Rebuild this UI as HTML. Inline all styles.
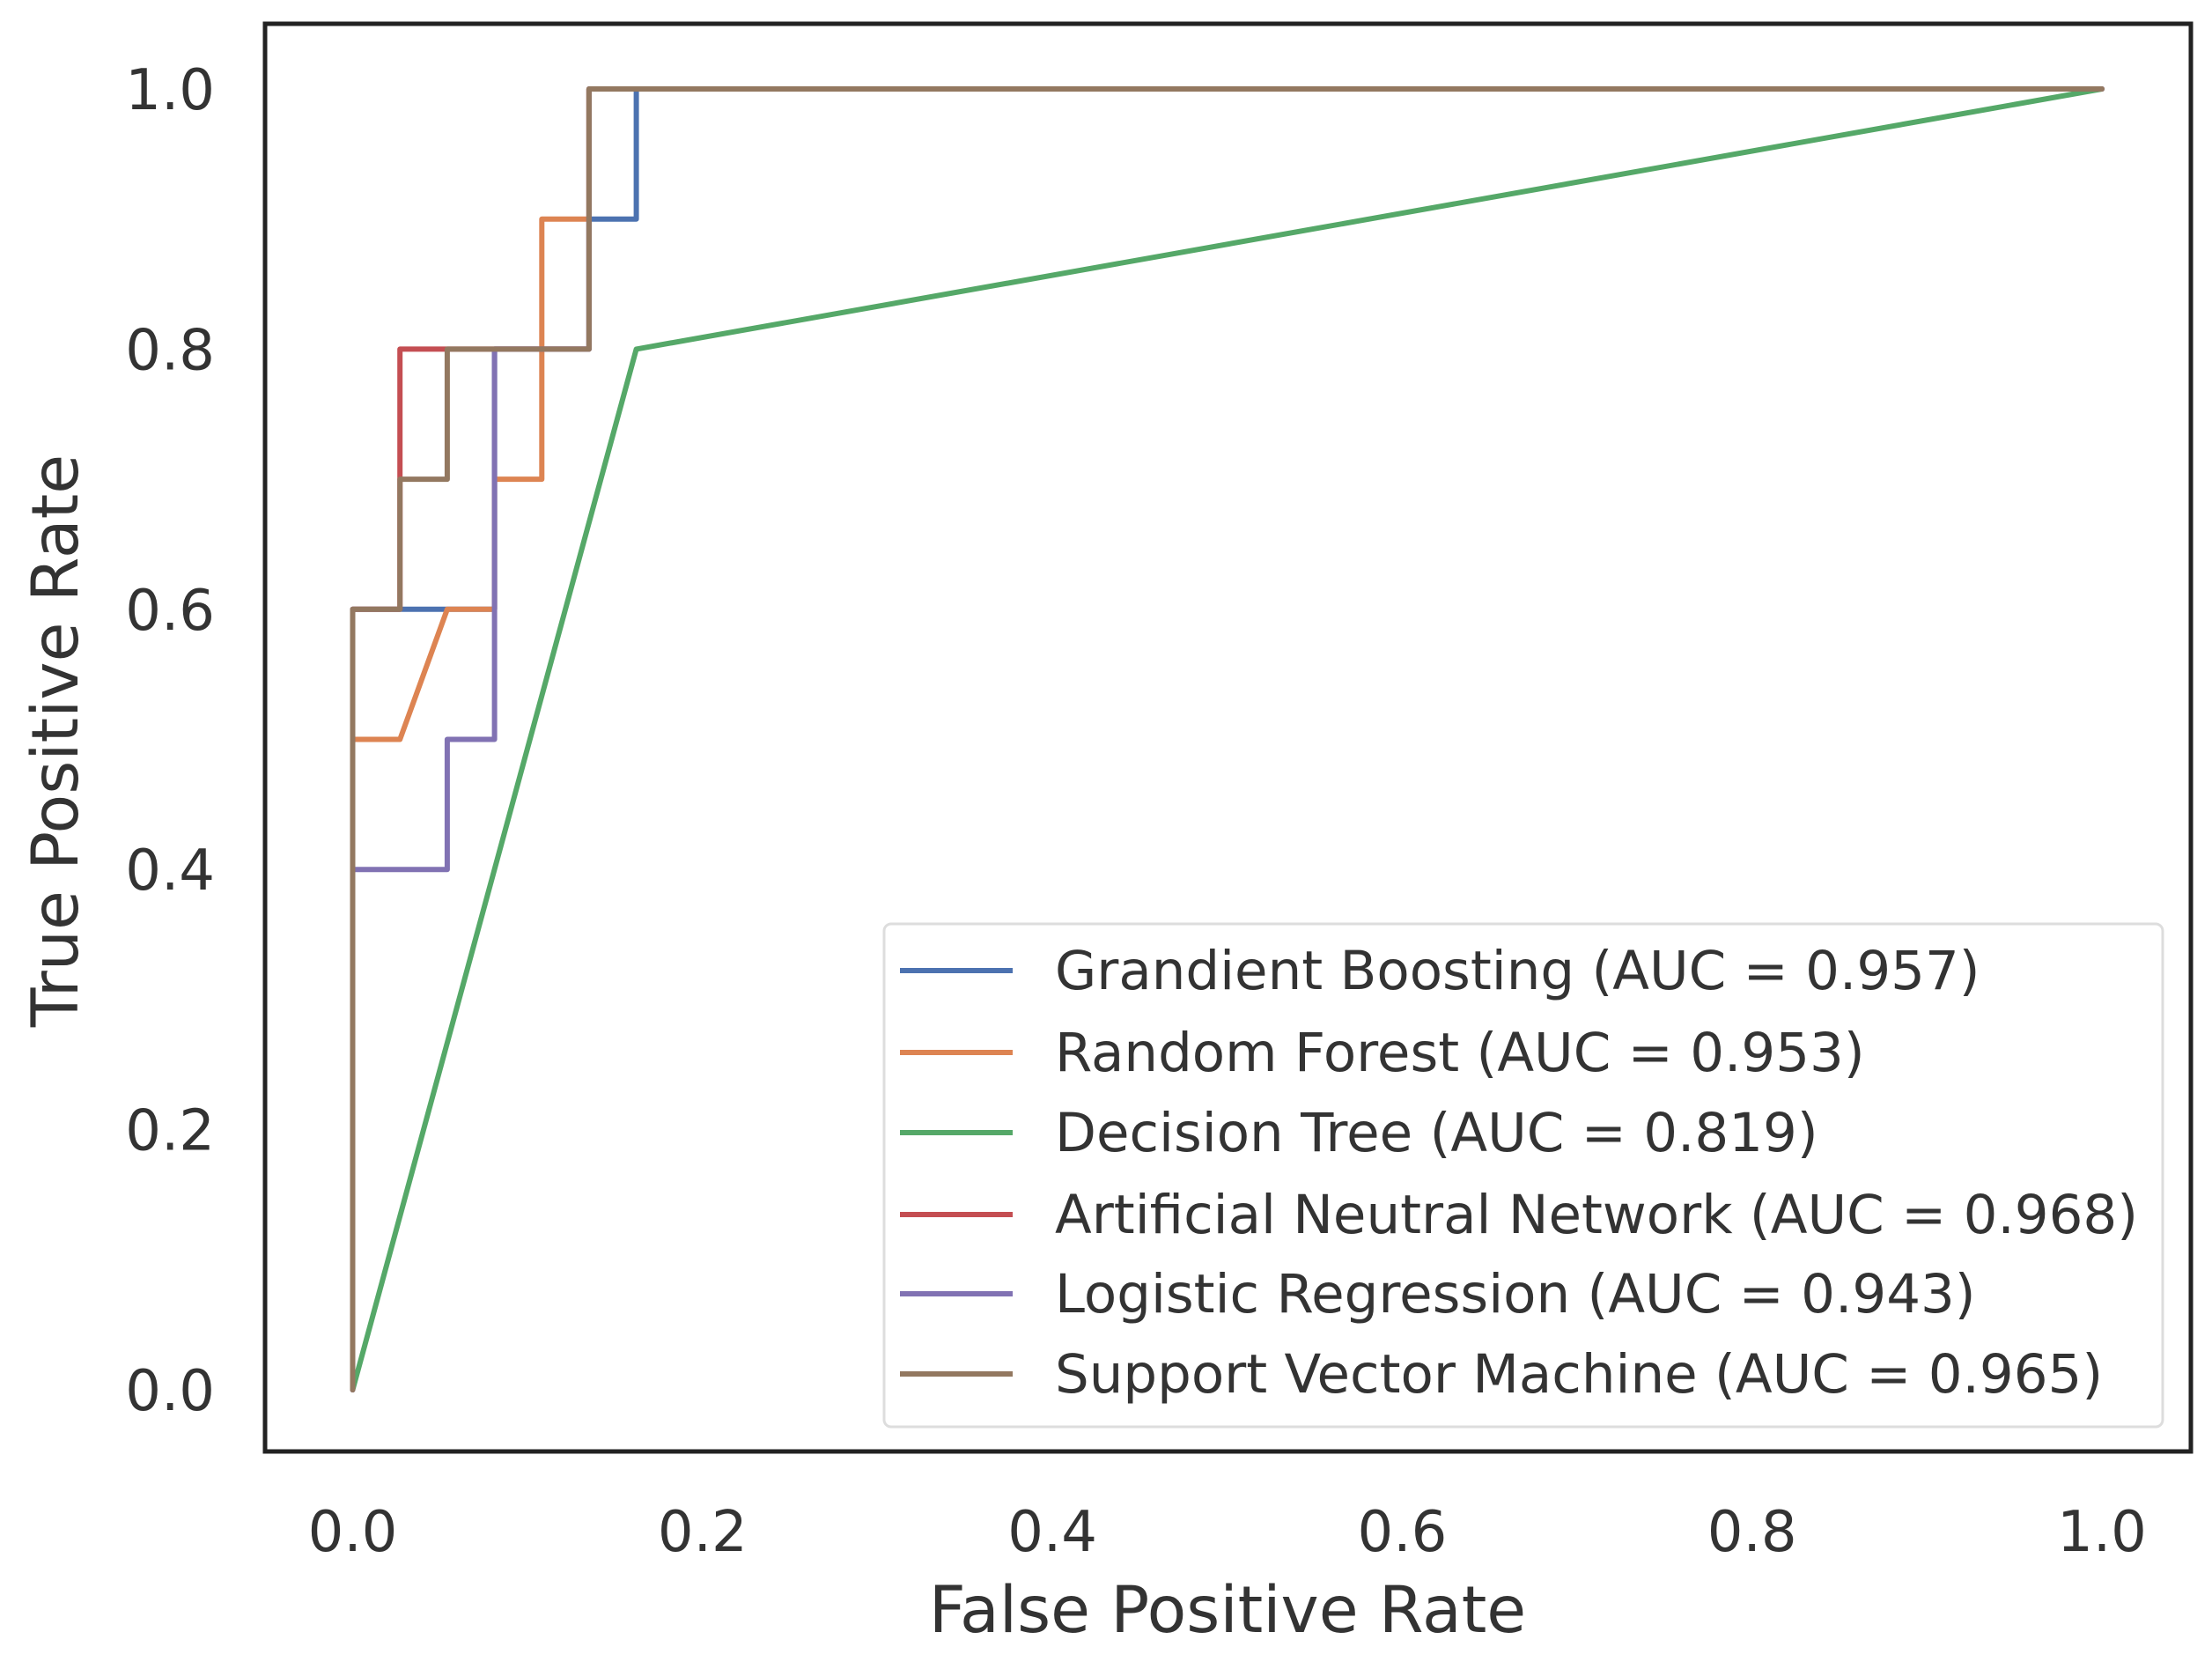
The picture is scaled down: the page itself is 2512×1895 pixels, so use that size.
<!DOCTYPE html>
<html><head><meta charset="utf-8"><style>
html,body{margin:0;padding:0;background:#fff;}
svg{display:block;font-family:"DejaVu Sans","Liberation Sans",sans-serif;}
</style></head><body>
<svg id="chart" width="2512" height="1895" viewBox="0 0 2512 1895" xmlns="http://www.w3.org/2000/svg">
<rect x="0" y="0" width="2512" height="1895" fill="#fff"/>
<g id="series"></g>
<g id="ticks"></g>
<rect x="301" y="27" width="2187" height="1621" fill="none" stroke="#222" stroke-width="5"/>
<g id="legend"></g>
<text x="1394" y="1853" font-size="73" fill="#333" text-anchor="middle">False Positive Rate</text>
<text transform="translate(88,841) rotate(-90)" font-size="73" fill="#333" text-anchor="middle">True Positive Rate</text>
</svg>
<script>
const xTicks=[0,0.2,0.4,0.6,0.8,1.0];
const yTicks=[0,0.2,0.4,0.6,0.8,1.0];
const seriesNames=["Grandient Boosting (AUC = 0.957)","Random Forest (AUC = 0.953)","Decision Tree (AUC = 0.819)","Artificial Neutral Network (AUC = 0.968)","Logistic Regression (AUC = 0.943)","Support Vector Machine (AUC = 0.965)"];
const seriesColors=["#4c72b0","#dd8452","#55a868","#c44e52","#8172b3","#937860"];
const N=37;
const gbFpr=[0,0,3/N,3/N,5/N,5/N,6/N,6/N,1];
const gbTpr=[0,0.6,0.6,0.8,0.8,0.9,0.9,1,1];
const rfFpr=[0,0,1/N,2/N,3/N,3/N,4/N,4/N,5/N,5/N,1];
const rfTpr=[0,0.5,0.5,0.6,0.6,0.7,0.7,0.9,0.9,1,1];
const dtFpr=[0,6/N,1];
const dtTpr=[0,0.8,1];
const annFpr=[0,0,1/N,1/N,5/N,5/N,1];
const annTpr=[0,0.6,0.6,0.8,0.8,1,1];
const lrFpr=[0,0,2/N,2/N,3/N,3/N,5/N,5/N,1];
const lrTpr=[0,0.4,0.4,0.5,0.5,0.8,0.8,1,1];
const svmFpr=[0,0,1/N,1/N,2/N,2/N,5/N,5/N,1];
const svmTpr=[0,0.6,0.6,0.7,0.7,0.8,0.8,1,1];
const allFpr=[gbFpr,rfFpr,dtFpr,annFpr,lrFpr,svmFpr];
const allTpr=[gbTpr,rfTpr,dtTpr,annTpr,lrTpr,svmTpr];
const NS="http://www.w3.org/2000/svg";
function xs(v){return 400.5+v*(2387-400.5);}
function ys(v){return 1578-v*(1578-101);}
const sg=document.getElementById('series');
const keys=["gradient-boosting","random-forest","decision-tree","ann","logistic-regression","svm"];
for(let i=0;i<6;i++){
  const p=document.createElementNS(NS,'polyline');
  p.setAttribute('points',allFpr[i].map((f,j)=>xs(f).toFixed(1)+','+ys(allTpr[i][j]).toFixed(1)).join(' '));
  p.setAttribute('fill','none');p.setAttribute('stroke',seriesColors[i]);p.setAttribute('stroke-width','6');
  p.setAttribute('stroke-linejoin','round');p.setAttribute('stroke-linecap','round');
  
  
  sg.appendChild(p);
}
const tg=document.getElementById('ticks');
xTicks.forEach(v=>{
  const t=document.createElementNS(NS,'text');
  t.setAttribute('x',xs(v));t.setAttribute('y',1761);t.setAttribute('font-size','64');t.setAttribute('fill','#333');t.setAttribute('text-anchor','middle');
  t.textContent=v.toFixed(1);
  
  
  tg.appendChild(t);
});
yTicks.forEach(v=>{
  const t=document.createElementNS(NS,'text');
  t.setAttribute('x',244);t.setAttribute('y',ys(v)+23);t.setAttribute('font-size','64');t.setAttribute('fill','#333');t.setAttribute('text-anchor','end');
  t.textContent=v.toFixed(1);
  
  
  tg.appendChild(t);
});
const lg=document.getElementById('legend');
const box=document.createElementNS(NS,'rect');
box.setAttribute('x',1004);box.setAttribute('y',1049);box.setAttribute('width',1452);box.setAttribute('height',571);
box.setAttribute('rx',8);box.setAttribute('fill','#fff');box.setAttribute('fill-opacity','0.85');box.setAttribute('stroke','#ddd');box.setAttribute('stroke-width','3');


lg.appendChild(box);
const rowY=[1102,1195,1286,1379,1469,1560];
for(let i=0;i<6;i++){
  const l=document.createElementNS(NS,'line');
  l.setAttribute('x1',1022);l.setAttribute('x2',1150);l.setAttribute('y1',rowY[i]);l.setAttribute('y2',rowY[i]);
  l.setAttribute('stroke',seriesColors[i]);l.setAttribute('stroke-width','6');
  
  
  lg.appendChild(l);
  const t=document.createElementNS(NS,'text');
  t.setAttribute('x',1198);t.setAttribute('y',rowY[i]+21);t.setAttribute('font-size','61');t.setAttribute('fill','#333');
  t.textContent=seriesNames[i];
  
  
  lg.appendChild(t);
}
</script>
</body></html>
